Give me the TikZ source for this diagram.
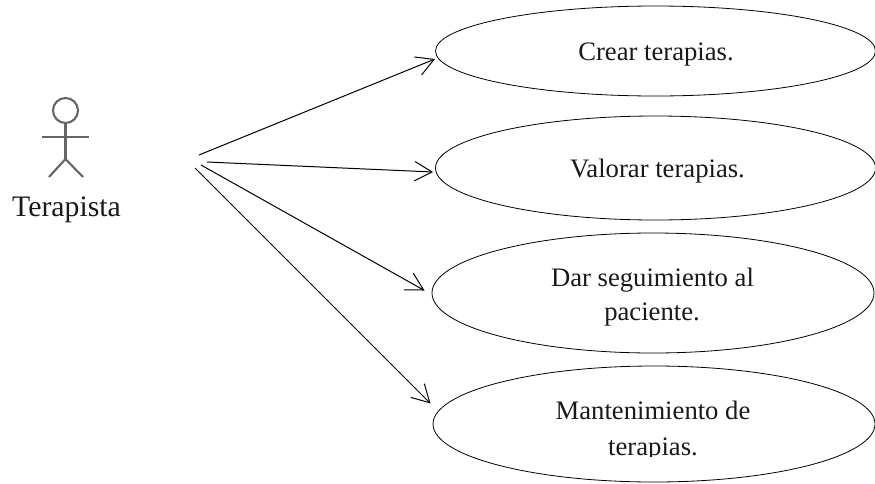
\documentclass[tikz,border=0pt]{standalone}
\usepackage{fontspec}
\setmainfont{Liberation Serif}
\usetikzlibrary{arrows.meta,shapes.geometric}
\tikzset{
  px/.style={x=0.75pt,y=-0.75pt},
  usecase/.style={draw=black,line width=0.6pt,ellipse,inner sep=0pt,outer sep=0pt},
  caselabel/.style={font=\fontsize{20pt}{30pt}\selectfont,align=center,inner sep=0pt,text=black!90,anchor=base},
  actorline/.style={draw=black!60,line width=1.6pt},
  assoc/.style={draw=black,line width=0.75pt,-{Straight Barb[length=13pt,width=14.5pt,line width=0.75pt]}}
}
\begin{document}
\begin{tikzpicture}[px]
\useasboundingbox (0,0) rectangle (875,483);
% use cases
\node[usecase,minimum width=330pt,minimum height=67.5pt] (e1) at (655.5,51) {};
\node[usecase,minimum width=330pt,minimum height=78pt] (e2) at (655.5,168) {};
\node[usecase,minimum width=331.5pt,minimum height=90pt] (e3) at (653,293) {};
\node[usecase,minimum width=331.5pt,minimum height=87pt] (e4) at (654,424) {};
\node[caselabel] (t1) at (656,60) {Crear terapias.};
\node[caselabel] (t2) at (657.5,177) {Valorar terapias.};
\node[caselabel] (t3a) at (652.5,286) {Dar seguimiento al};
\node[caselabel] (t3b) at (652,320) {paciente.};
\node[caselabel] (t4a) at (653,419) {Mantenimiento de};
\begin{scope}
\clip (560,430) rectangle (760,456);
\node[caselabel] (t4b) at (653,455) {terapias.};
\end{scope}
% actor
\node[draw=black!60,line width=1.6pt,circle,minimum size=25pt*0.75,inner sep=0pt] (head) at (65.5,110.5) {};
\coordinate (hip) at (65.5,159);
\coordinate (armL) at (42,137);
\coordinate (armR) at (89,137);
\coordinate (legL) at (49,177);
\coordinate (legR) at (83,177);
\draw[actorline] (head.south) -- (hip);
\draw[actorline] (armL) -- (armR);
\draw[actorline] (legL) -- (hip) -- (legR);
\node[font=\fontsize{22.3pt}{26pt}\selectfont,inner sep=0pt,text=black!90,anchor=base] (actor) at (66.5,216) {Terapista};
% connectors
\coordinate (s1) at (199,155);
\coordinate (s2) at (207,162);
\coordinate (s3) at (201,165);
\coordinate (s4) at (195,168);
\coordinate (p1) at (435,59);
\coordinate (p2) at (433,172);
\coordinate (p3) at (424.5,290.5);
\coordinate (p4) at (430.5,403.5);
\draw[assoc] (s1) -- (p1);
\draw[assoc] (s2) -- (p2);
\draw[assoc] (s3) -- (p3);
\draw[assoc] (s4) -- (p4);
\end{tikzpicture}
\end{document}
